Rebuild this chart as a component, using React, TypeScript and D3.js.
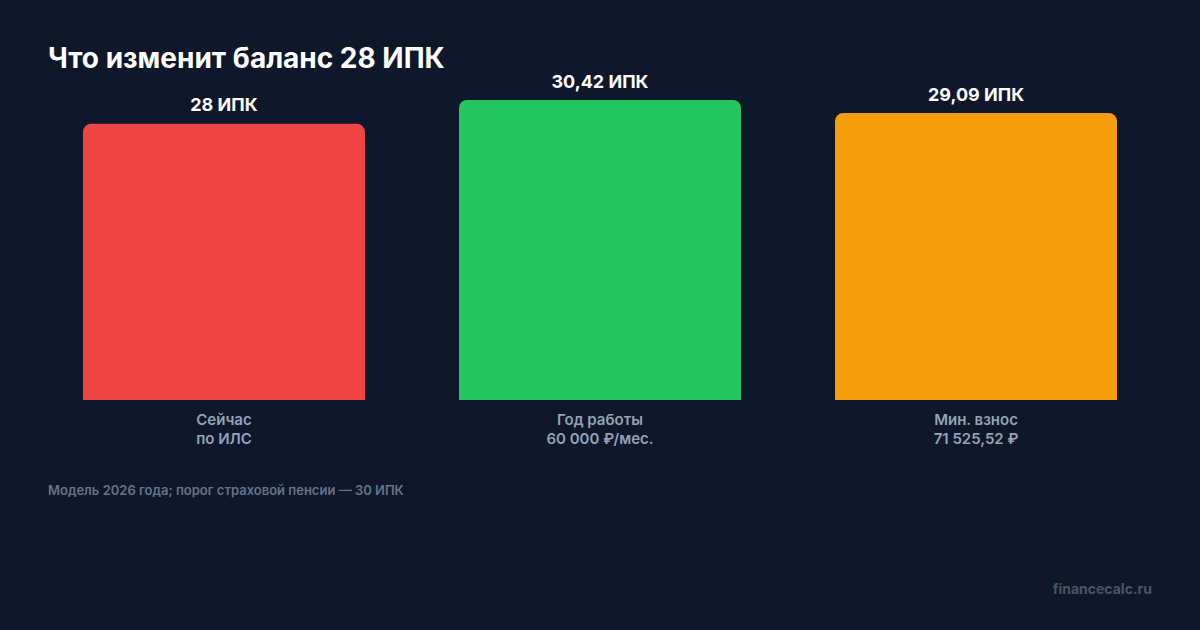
import React from "react";
import * as d3 from "d3";

const categories = ["Сейчас|по ИЛС", "Год работы|60 000 ₽/мес.", "Мин. взнос|71 525,52 ₽"];
const values = [28, 30.42, 29.09];
const valueLabels = ["28 ИПК", "30,42 ИПК", "29,09 ИПК"];
const colors = ["#ef4444", "#22c55e", "#f59e0b"];

const W = 1200;
const H = 630;
const FONT = "Inter, 'Noto Sans', sans-serif";

function topRoundedRect(x: number, y: number, w: number, h: number, r: number) {
  const p = d3.path();
  p.moveTo(x, y + h);
  p.lineTo(x, y + r);
  p.arcTo(x, y, x + r, y, r);
  p.lineTo(x + w - r, y);
  p.arcTo(x + w, y, x + w, y + r, r);
  p.lineTo(x + w, y + h);
  p.closePath();
  return p.toString();
}

export default function App() {
  const x = d3
    .scaleBand<string>()
    .domain(categories)
    .range([48, 1152])
    .paddingInner(0.25)
    .paddingOuter(0.093);
  const y = d3.scaleLinear().domain([0, 30.42]).range([400, 100]);

  return (
    <svg
      width={W}
      height={H}
      viewBox={`0 0 ${W} ${H}`}
      style={{ position: "absolute", left: 0, top: 0, display: "block" }}
    >
      <rect x={0} y={0} width={W} height={H} fill="#0f172a" />
      <text x={48} y={68} fill="#ffffff" fontFamily={FONT} fontWeight={700} fontSize={28}>
        Что изменит баланс 28 ИПК
      </text>
      {categories.map((c, i) => {
        const bx = x(c)!;
        const bw = x.bandwidth();
        const top = y(values[i]);
        const lines = c.split("|");
        return (
          <g key={c}>
            <path d={topRoundedRect(bx, top, bw, y(0) - top, 8)} fill={colors[i]} />
            <text
              x={bx + bw / 2}
              y={top - 12.5}
              textAnchor="middle"
              fill="#ffffff"
              fontFamily={FONT}
              fontWeight={700}
              fontSize={18}
            >
              {valueLabels[i]}
            </text>
            {lines.map((l, j) => (
              <text
                key={j}
                x={bx + bw / 2}
                y={425 + j * 18.5}
                textAnchor="middle"
                fill="#94a3b8"
                fontFamily={FONT}
                fontWeight={600}
                fontSize={15}
              >
                {l}
              </text>
            ))}
          </g>
        );
      })}
      <text x={48} y={495} fill="#64748b" fontFamily={FONT} fontWeight={600} fontSize={13}>
        Модель 2026 года; порог страховой пенсии — 30 ИПК
      </text>
      <text
        x={1152}
        y={594}
        textAnchor="end"
        fill="#475569"
        fontFamily={FONT}
        fontWeight={700}
        fontSize={14}
      >
        financecalc.ru
      </text>
    </svg>
  );
}
